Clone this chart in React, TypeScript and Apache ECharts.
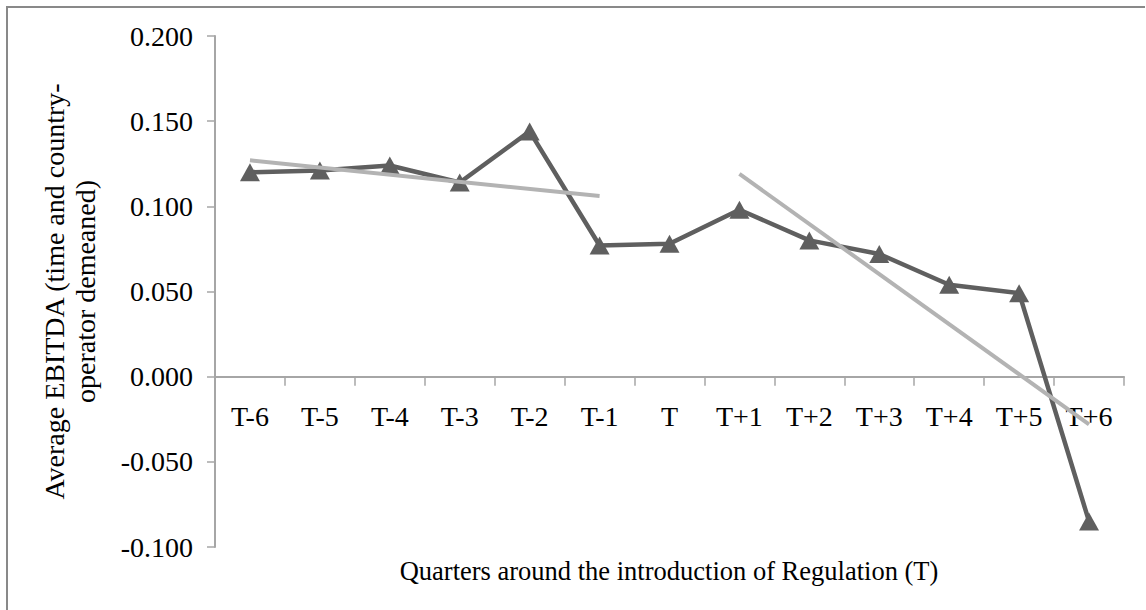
import React, { useEffect, useRef } from "react";
import * as echarts from "echarts";

const categories = ["T-6", "T-5", "T-4", "T-3", "T-2", "T-1", "T", "T+1", "T+2", "T+3", "T+4", "T+5", "T+6"];
const ebitda = [0.120, 0.121, 0.124, 0.114, 0.144, 0.077, 0.078, 0.098, 0.080, 0.072, 0.054, 0.049, -0.085];
const trendBefore = [0.127, null, null, null, null, 0.106, null, null, null, null, null, null, null];
const trendAfter = [null, null, null, null, null, null, null, 0.119, null, null, null, null, -0.028];
const yTitle = "Average EBITDA (time and country-\noperator demeaned)";
const xTitle = "Quarters around the introduction of Regulation (T)";

const FONT = "'Liberation Serif', 'Times New Roman', serif";

export default function App() {
  const ref = useRef<HTMLDivElement>(null);
  useEffect(() => {
    if (!ref.current) return;
    const chart = echarts.init(ref.current, undefined, { renderer: "svg" });
    chart.setOption({
      animation: false,
      backgroundColor: "#ffffff",
      grid: { left: 215, right: 22, top: 36, bottom: 63 },
      graphic: [
        {
          type: "polyline",
          shape: { points: [[7, 610], [7, 7], [1145, 7]] },
          style: { stroke: "#898989", lineWidth: 2, fill: "none" },
        },
        {
          type: "text",
          x: 669,
          y: 571,
          style: { text: xTitle, font: `26.5px ${FONT}`, fill: "#000", textAlign: "center", textVerticalAlign: "middle" },
        },
      ],
      xAxis: {
        type: "category",
        data: categories,
        boundaryGap: true,
        axisLine: { onZero: true, lineStyle: { color: "#a6a6a6", width: 2 } },
        axisTick: { show: true, length: 9, inside: false, lineStyle: { color: "#a6a6a6", width: 1.5 } },
        axisLabel: { margin: -145, color: "#000", fontFamily: FONT, fontSize: 28, interval: 0 },
        splitLine: { show: false },
      },
      yAxis: {
        type: "value",
        min: -0.1,
        max: 0.2,
        interval: 0.05,
        name: yTitle,
        nameLocation: "middle",
        nameRotate: 90,
        nameGap: 114,
        nameTextStyle: { color: "#000", fontFamily: FONT, fontSize: 28, lineHeight: 31, align: "center" },
        axisLine: { show: true, lineStyle: { color: "#a6a6a6", width: 2 } },
        axisTick: { show: true, length: 8, lineStyle: { color: "#a6a6a6", width: 1.5 } },
        axisLabel: {
          margin: 22,
          color: "#000",
          fontFamily: FONT,
          fontSize: 28,
          formatter: (v: number) => v.toFixed(3),
        },
        splitLine: { show: false },
      },
      series: [
        {
          type: "line",
          data: trendBefore,
          connectNulls: true,
          symbol: "none",
          lineStyle: { color: "#b3b3b3", width: 4 },
          z: 3,
        },
        {
          type: "line",
          data: trendAfter,
          connectNulls: true,
          symbol: "none",
          lineStyle: { color: "#b3b3b3", width: 4 },
          z: 3,
        },
        {
          type: "line",
          data: ebitda,
          symbol: "triangle",
          symbolSize: [20, 18],
          itemStyle: { color: "#5f5f5f" },
          lineStyle: { color: "#5f5f5f", width: 4.5 },
          z: 2,
        },
      ],
    });
    return () => chart.dispose();
  }, []);
  return <div ref={ref} style={{ position: "absolute", left: 0, top: 0, width: 1146, height: 610 }} />;
}
